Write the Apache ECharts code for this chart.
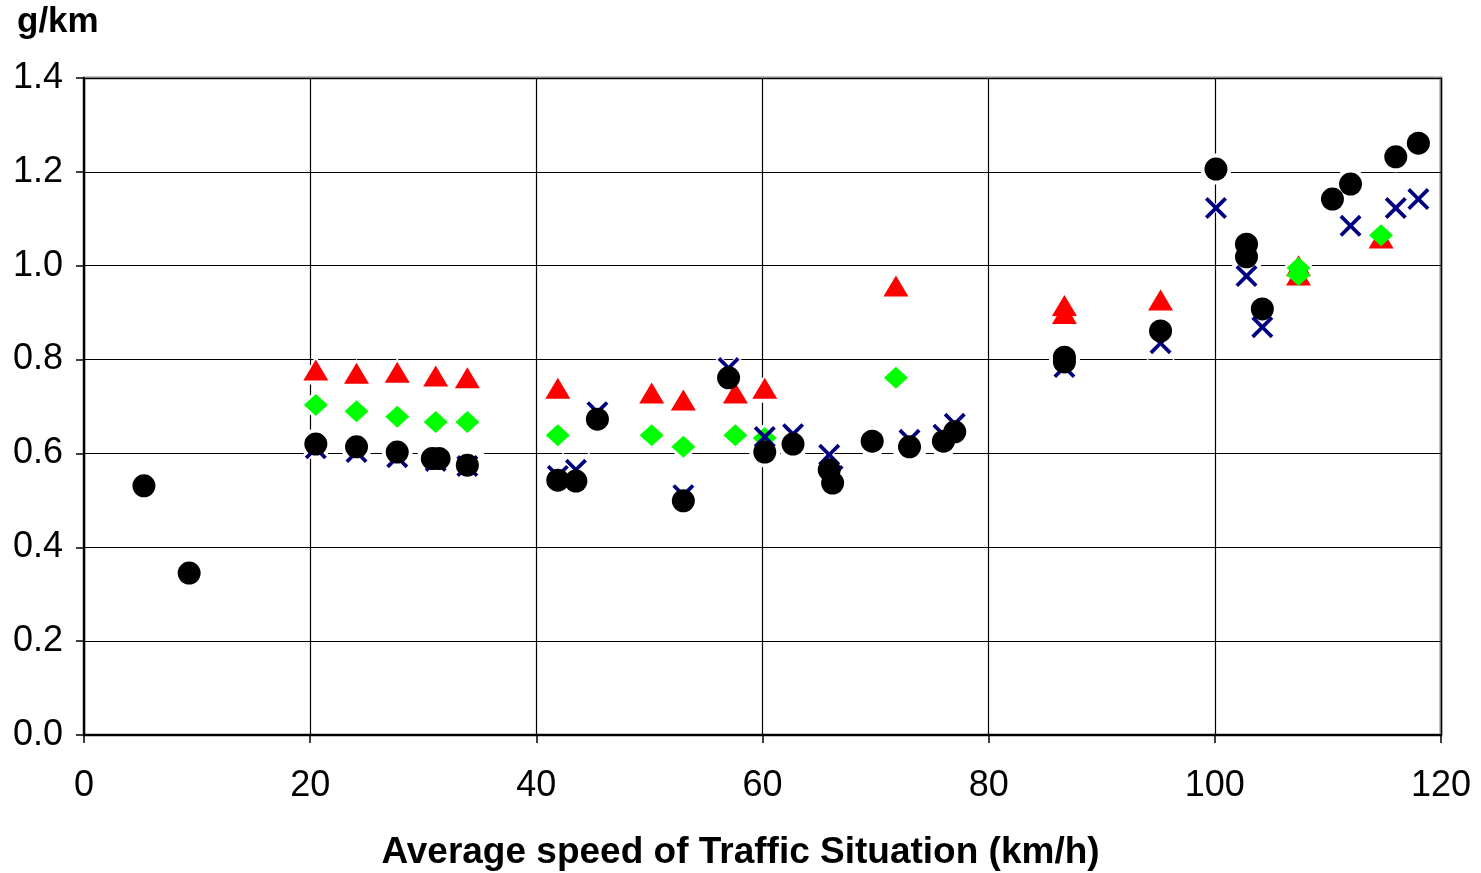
<!DOCTYPE html>
<html>
<head>
<meta charset="utf-8">
<script src="https://cdn.jsdelivr.net/npm/echarts@6/dist/echarts.min.js"></script>
<style>
  html, body { margin: 0; padding: 0; background: #fff; }
  #chart { width: 1481px; height: 873px; }
</style>
</head>
<body>
<div id="chart"></div>
<script>
// Emission factor (g/km) against average speed of each traffic situation, four measurement sets
const xTicks = [0, 20, 40, 60, 80, 100, 120];
const yTicks = [0.0, 0.2, 0.4, 0.6, 0.8, 1.0, 1.2, 1.4];
const xTitle = 'Average speed of Traffic Situation (km/h)';
const yUnit = 'g/km';

const triangleData = [
  [20.5, 0.778], [24.1, 0.771], [27.7, 0.773], [31.1, 0.765], [33.9, 0.761],
  [41.9, 0.739], [50.2, 0.729], [53.0, 0.714], [57.6, 0.729], [60.2, 0.739],
  [71.8, 0.957], [86.7, 0.915], [86.7, 0.898], [95.2, 0.927],
  [107.4, 1.000], [107.4, 0.980], [114.7, 1.059]
];
const diamondData = [
  [20.5, 0.703], [24.1, 0.690], [27.7, 0.678], [31.1, 0.667], [33.9, 0.667],
  [41.9, 0.639], [50.2, 0.639], [53.0, 0.614], [57.6, 0.639], [60.2, 0.633],
  [71.8, 0.761], [107.4, 0.995], [107.4, 0.980], [114.7, 1.065]
];
const crossData = [
  [20.5, 0.611], [24.1, 0.603], [27.7, 0.592], [31.1, 0.584], [33.9, 0.573],
  [41.9, 0.552], [43.5, 0.565], [45.4, 0.688], [53.0, 0.511], [57.0, 0.782],
  [60.2, 0.635], [62.7, 0.641], [65.9, 0.597], [66.2, 0.552], [73.0, 0.629],
  [76.0, 0.640], [77.0, 0.663], [86.7, 0.784], [95.2, 0.835], [100.1, 1.123],
  [102.8, 0.978], [104.2, 0.869], [112.0, 1.085], [116.0, 1.123], [118.0, 1.142]
];
const circleData = [
  [5.3, 0.531], [9.3, 0.345], [20.5, 0.620], [24.1, 0.614], [27.7, 0.603],
  [30.8, 0.589], [31.4, 0.589], [33.9, 0.575], [41.9, 0.543], [43.5, 0.541],
  [45.4, 0.673], [53.0, 0.499], [57.0, 0.761], [60.2, 0.603], [62.7, 0.620],
  [65.9, 0.565], [66.2, 0.537], [69.7, 0.626], [73.0, 0.614], [76.0, 0.626],
  [77.0, 0.646], [86.7, 0.805], [86.7, 0.795], [95.2, 0.861], [100.1, 1.206],
  [102.8, 1.046], [102.8, 1.019], [104.2, 0.908], [110.4, 1.142], [112.0, 1.174],
  [116.0, 1.232], [118.0, 1.261]
];

// filled "x" outline so it can be used as a scatter symbol
const crossPath = 'path://M0,12L12,0L50,38L88,0L100,12L62,50L100,88L88,100L50,62L12,100L0,88L38,50Z';

const FONT = '"Liberation Sans", Arial, sans-serif';

const markerSets = [
  { data: triangleData, symbol: 'triangle', size: [25, 21], halo: [33, 29], color: '#ff0000' },
  { data: diamondData,  symbol: 'diamond',  size: [24, 22], halo: [32, 30], color: '#00ff00' },
  { data: crossData,    symbol: crossPath,  size: [22, 22], halo: [34, 34], color: '#000080' },
  { data: circleData,   symbol: 'circle',   size: 23,       halo: 31,       color: '#000000' }
];

// white halos underneath every marker break the grid lines around the points
const haloSeries = markerSets.map(m => ({
  type: 'scatter',
  data: m.data,
  symbol: m.symbol,
  symbolSize: m.halo,
  itemStyle: { color: '#ffffff', opacity: 1 },
  silent: true,
  z: 2
}));
const pointSeries = markerSets.map(m => ({
  type: 'scatter',
  data: m.data,
  symbol: m.symbol,
  symbolSize: m.size,
  itemStyle: { color: m.color, opacity: 1 },
  z: 3
}));

const chart = echarts.init(document.getElementById('chart'), null, { renderer: 'canvas' });
chart.setOption({
  animation: false,
  backgroundColor: '#ffffff',
  title: {
    text: yUnit,
    left: 12,
    top: 0,
    textStyle: { fontFamily: FONT, fontSize: 35, fontWeight: 'bold', color: '#000' }
  },
  graphic: [{
    type: 'text',
    left: 'center',
    top: 834,
    style: {
      text: xTitle,
      fontFamily: FONT, fontSize: 37, fontWeight: 'bold', fill: '#000'
    },
    x: -22
  }],
  grid: {
    left: 84, top: 78, right: 40, bottom: 138,
    show: true,
    borderColor: '#888888',
    borderWidth: 3,
    backgroundColor: 'transparent'
  },
  xAxis: {
    type: 'value',
    min: xTicks[0],
    max: xTicks[xTicks.length - 1],
    interval: xTicks[1] - xTicks[0],
    axisLine: { show: true, onZero: false, lineStyle: { color: '#000', width: 2 } },
    axisTick: { show: true, length: 8, lineStyle: { color: '#000', width: 1.5 } },
    axisLabel: { fontFamily: FONT, fontSize: 36, color: '#000', margin: 33 },
    splitLine: { show: true, lineStyle: { color: '#000', width: 1.2 } }
  },
  yAxis: {
    type: 'value',
    min: yTicks[0],
    max: yTicks[yTicks.length - 1],
    interval: 0.2,
    axisLine: { show: true, onZero: false, lineStyle: { color: '#000', width: 2 } },
    axisTick: { show: true, length: 8, lineStyle: { color: '#000', width: 1.5 } },
    axisLabel: {
      fontFamily: FONT, fontSize: 36, color: '#000', margin: 21,
      padding: [4, 0, 0, 0],
      formatter: v => v.toFixed(1)
    },
    splitLine: { show: true, lineStyle: { color: '#000', width: 1.2 } }
  },
  series: haloSeries.concat(pointSeries)
});
</script>
</body>
</html>
